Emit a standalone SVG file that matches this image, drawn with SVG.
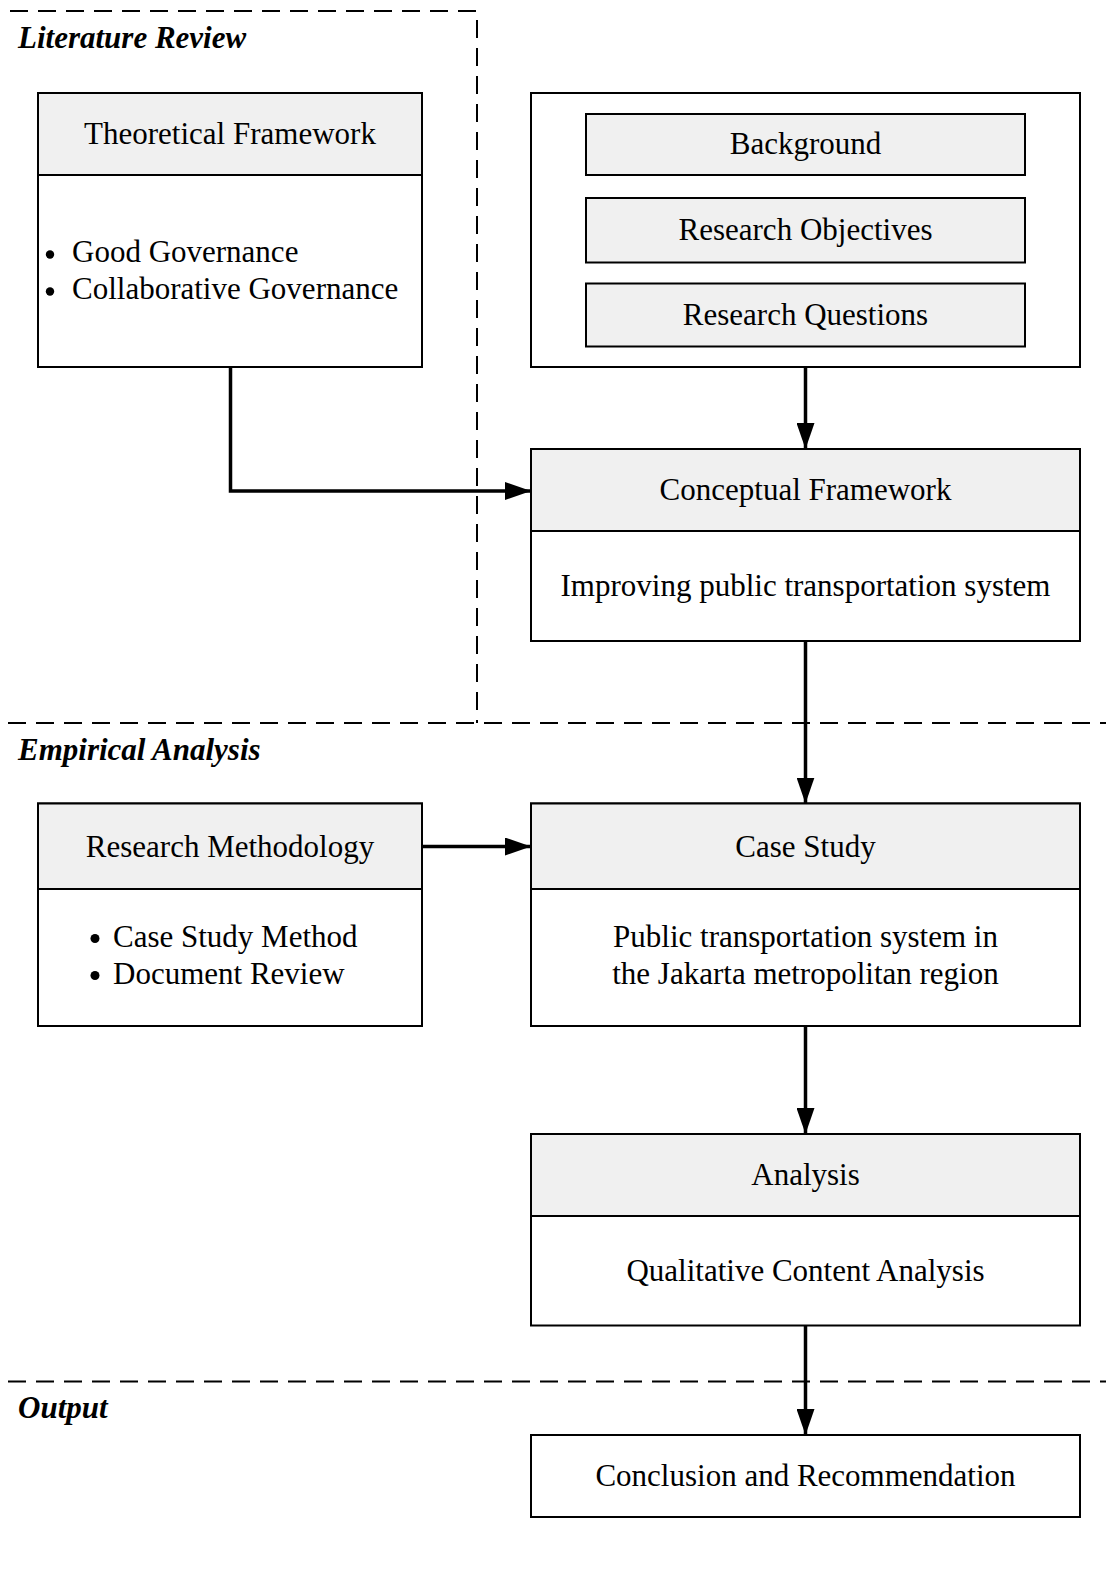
<svg xmlns="http://www.w3.org/2000/svg" width="1106" height="1571" viewBox="0 0 1106 1571">
  <style>
    .box { fill: #ffffff; stroke: #000000; stroke-width: 2; }
    .head { fill: #f0f0f0; stroke: #000000; stroke-width: 2; }
    .t { font-family: "Liberation Serif", "Times New Roman", serif; font-size: 31px; fill: #000000; }
    .c { text-anchor: middle; }
    .sec { font-family: "Liberation Serif", "Times New Roman", serif; font-size: 31px; font-weight: bold; font-style: italic; fill: #000000; }
    .dash { fill: none; stroke: #000000; stroke-width: 2; stroke-dasharray: 18 10; }
    .link { fill: none; stroke: #000000; stroke-width: 3.5; }
  </style>
  <defs>
    <marker id="arrow" viewBox="0 0 26 18" refX="26" refY="9" markerWidth="26" markerHeight="18" markerUnits="userSpaceOnUse" orient="auto">
      <path d="M0,0 L26,9 L0,18 Z" fill="#000000"/>
    </marker>
  </defs>

  <rect width="1106" height="1571" fill="#ffffff"/>

  <!-- section boundaries -->
  <g id="sections">
    <path class="dash" d="M10,11 H477 V723"/>
    <path class="dash" d="M8,723 H1106"/>
    <path class="dash" d="M8,1381.5 H1106"/>
    <text class="sec" x="18" y="48">Literature Review</text>
    <text class="sec" x="18" y="760">Empirical Analysis</text>
    <text class="sec" x="18" y="1418">Output</text>
  </g>

  <!-- connectors -->
  <g id="connectors">
    <path class="link" d="M230.5,367 V491 H531" marker-end="url(#arrow)"/>
    <path class="link" d="M805.5,367 V449" marker-end="url(#arrow)"/>
    <path class="link" d="M805.5,641 V803.5" marker-end="url(#arrow)"/>
    <path class="link" d="M422,846.5 H531" marker-end="url(#arrow)"/>
    <path class="link" d="M805.5,1026 V1134" marker-end="url(#arrow)"/>
    <path class="link" d="M805.5,1325.5 V1435" marker-end="url(#arrow)"/>
  </g>

  <g id="theoretical-framework">
    <rect class="box" x="38" y="93" width="384" height="274"/>
    <rect class="head" x="38" y="93" width="384" height="82"/>
    <text class="t c" x="230" y="144">Theoretical Framework</text>
    <circle cx="50" cy="254.5" r="4.2" fill="#000"/>
    <text class="t" x="72" y="262">Good Governance</text>
    <circle cx="50" cy="291.5" r="4.2" fill="#000"/>
    <text class="t" x="72" y="299">Collaborative Governance</text>
  </g>

  <g id="research-context">
    <rect class="box" x="531" y="93" width="549" height="274"/>
    <g id="background">
      <rect class="head" x="586" y="114" width="439" height="61"/>
      <text class="t c" x="805.5" y="154">Background</text>
    </g>
    <g id="research-objectives">
      <rect class="head" x="586" y="198" width="439" height="64.5"/>
      <text class="t c" x="805.5" y="240">Research Objectives</text>
    </g>
    <g id="research-questions">
      <rect class="head" x="586" y="283.5" width="439" height="63"/>
      <text class="t c" x="805.5" y="324.5">Research Questions</text>
    </g>
  </g>

  <g id="conceptual-framework">
    <rect class="box" x="531" y="449" width="549" height="192"/>
    <rect class="head" x="531" y="449" width="549" height="82"/>
    <text class="t c" x="805.5" y="500">Conceptual Framework</text>
    <text class="t c" x="805.5" y="596">Improving public transportation system</text>
  </g>

  <g id="research-methodology">
    <rect class="box" x="38" y="803.5" width="384" height="222.5"/>
    <rect class="head" x="38" y="803.5" width="384" height="85.5"/>
    <text class="t c" x="230" y="856.5">Research Methodology</text>
    <circle cx="95" cy="938.5" r="4.5" fill="#000"/>
    <text class="t" x="113" y="947">Case Study Method</text>
    <circle cx="95" cy="975.5" r="4.5" fill="#000"/>
    <text class="t" x="113" y="984">Document Review</text>
  </g>

  <g id="case-study">
    <rect class="box" x="531" y="803.5" width="549" height="222.5"/>
    <rect class="head" x="531" y="803.5" width="549" height="85.5"/>
    <text class="t c" x="805.5" y="856.5">Case Study</text>
    <text class="t c" x="805.5" y="947">Public transportation system in</text>
    <text class="t c" x="805.5" y="984">the Jakarta metropolitan region</text>
  </g>

  <g id="analysis">
    <rect class="box" x="531" y="1134" width="549" height="191.5"/>
    <rect class="head" x="531" y="1134" width="549" height="82"/>
    <text class="t c" x="805.5" y="1185">Analysis</text>
    <text class="t c" x="805.5" y="1280.5">Qualitative Content Analysis</text>
  </g>

  <g id="conclusion">
    <rect class="box" x="531" y="1435" width="549" height="82"/>
    <text class="t c" x="805.5" y="1486">Conclusion and Recommendation</text>
  </g>
</svg>
